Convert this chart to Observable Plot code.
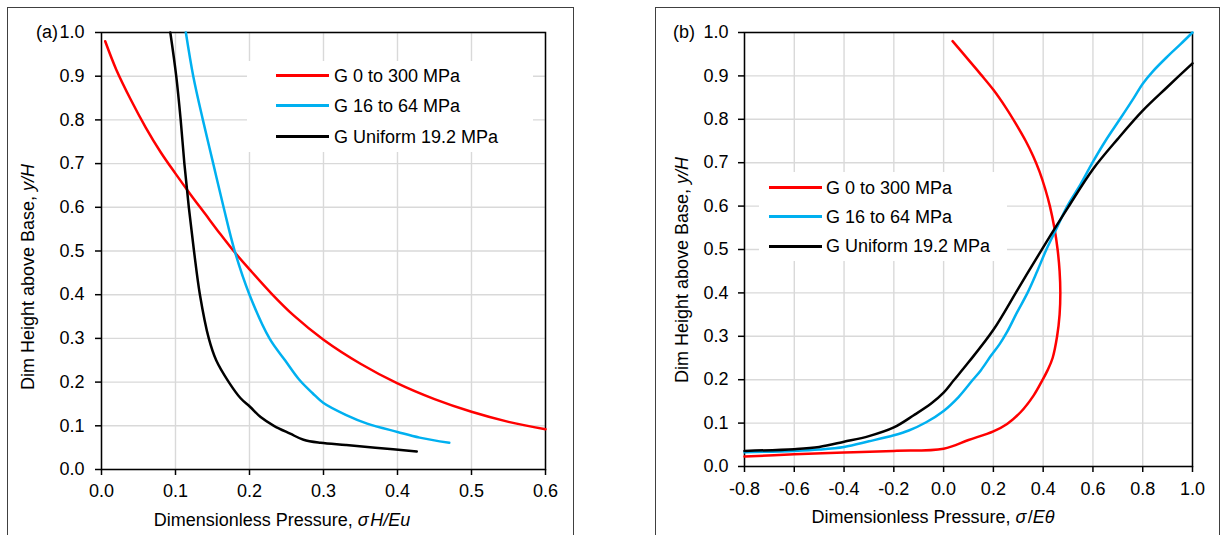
<!DOCTYPE html>
<html>
<head>
<meta charset="utf-8">
<script src="https://cdn.jsdelivr.net/npm/d3@7"></script>
<script src="https://cdn.jsdelivr.net/npm/@observablehq/plot@0.6"></script>
<style>
  body { margin: 0; background: #fff; font-family: "Liberation Sans", Arial, sans-serif; }
  #wrap { position: relative; width: 1220px; height: 535px; overflow: hidden; background: #fff; }
  .panel { position: absolute; border: 1.5px solid #404040; box-sizing: border-box; }
  .abs { position: absolute; white-space: nowrap; font-size: 18px; line-height: 18px; color: #000; }
  .ctr { transform: translate(-50%, -50%); }
  .rot { transform: translate(-50%, -50%) rotate(-90deg); }
  .leg { position: absolute; background: #fff; }
  .sw { position: absolute; height: 3px; }
</style>
</head>
<body>
<div id="wrap"></div>
<script>
// ---------- data ----------
const seriesNames = ["G 0 to 300 MPa", "G 16 to 64 MPa", "G Uniform 19.2 MPa"];
const seriesColors = ["#ff0000", "#00b0f0", "#000000"];

const yTicks = [0.0, 0.1, 0.2, 0.3, 0.4, 0.5, 0.6, 0.7, 0.8, 0.9, 1.0];
const aXTicks = [0.0, 0.1, 0.2, 0.3, 0.4, 0.5, 0.6];
const bXTicks = [-0.8, -0.6, -0.4, -0.2, 0.0, 0.2, 0.4, 0.6, 0.8, 1.0];

// panel (a): [sigma H / E u, y/H]
const aRed = [[0.005,0.98],[0.02,0.915],[0.04,0.845],[0.06,0.782],[0.08,0.726],[0.10,0.677],[0.12,0.63],
  [0.14,0.585],[0.16,0.54],[0.18,0.497],[0.20,0.458],[0.23,0.402],[0.26,0.352],[0.30,0.297],[0.35,0.242],
  [0.40,0.197],[0.45,0.161],[0.50,0.132],[0.55,0.109],[0.60,0.092]];
const aBlue = [[0.114,1.0],[0.124,0.9],[0.137,0.8],[0.151,0.7],[0.165,0.6],[0.18,0.5],[0.2,0.4],
  [0.227,0.3],[0.248,0.25],[0.267,0.206],[0.285,0.175],[0.30,0.152],[0.33,0.125],[0.359,0.105],
  [0.40,0.086],[0.43,0.073],[0.47,0.061]];
const aBlack = [[0.093,1.0],[0.101,0.9],[0.107,0.8],[0.112,0.7],[0.118,0.6],[0.125,0.5],[0.133,0.4],
  [0.145,0.3],[0.155,0.25],[0.172,0.2],[0.188,0.163],[0.201,0.143],[0.215,0.12],[0.233,0.10],
  [0.255,0.082],[0.273,0.068],[0.296,0.061],[0.33,0.056],[0.37,0.05],[0.426,0.041]];

// panel (b): [sigma / E theta, y/H]
const bRed = [[0.036,0.98],[0.1,0.937],[0.15,0.903],[0.2,0.868],[0.25,0.827],[0.29,0.79],[0.33,0.75],
  [0.36,0.715],[0.385,0.68],[0.408,0.64],[0.427,0.6],[0.445,0.55],[0.458,0.5],[0.466,0.45],[0.469,0.4],
  [0.466,0.35],[0.456,0.3],[0.438,0.25],[0.418,0.222],[0.396,0.198],[0.362,0.164],[0.309,0.125],
  [0.255,0.098],[0.20,0.081],[0.10,0.061],[0.0,0.041],[-0.2,0.036],[-0.4,0.032],[-0.6,0.028],[-0.8,0.023]];
const bBlue = [[-0.8,0.033],[-0.6,0.036],[-0.5,0.039],[-0.4,0.045],[-0.3,0.058],[-0.2,0.072],[-0.14,0.083],
  [-0.07,0.102],[0.0,0.128],[0.06,0.16],[0.115,0.198],[0.15,0.222],[0.19,0.255],[0.225,0.282],
  [0.255,0.31],[0.295,0.355],[0.337,0.40],[0.376,0.45],[0.413,0.5],[0.455,0.55],[0.497,0.6],
  [0.55,0.65],[0.598,0.7],[0.65,0.75],[0.708,0.8],[0.765,0.85],[0.80,0.882],[0.84,0.91],[0.9,0.945],
  [0.95,0.972],[1.0,1.0]];
const bBlack = [[-0.8,0.036],[-0.6,0.040],[-0.5,0.045],[-0.4,0.057],[-0.3,0.07],[-0.2,0.09],[-0.12,0.118],
  [-0.05,0.145],[0.0,0.17],[0.04,0.198],[0.1,0.24],[0.2,0.315],[0.3,0.41],[0.4,0.505],[0.5,0.597],
  [0.6,0.685],[0.7,0.755],[0.8,0.82],[0.9,0.875],[1.0,0.929]];

// ---------- build ----------
const toRows = (lists) => lists.flatMap((pts, i) => pts.map(([x, y]) => ({series: seriesNames[i], x, y})));
const fmt = d => d.toFixed(1);
const wrap = document.getElementById("wrap");

function panelPlot({xDomain, xTicks, data, width, height, mL, mR, mT, mB, xPad, yPad}) {
  return Plot.plot({
    width, height, marginLeft: mL, marginRight: mR, marginTop: mT, marginBottom: mB,
    style: {background: "transparent", fontFamily: "'Liberation Sans', Arial, sans-serif", fontSize: "18px", color: "#000", overflow: "visible"},
    x: {domain: xDomain},
    y: {domain: [0, 1]},
    color: {domain: seriesNames, range: seriesColors},
    marks: [
      Plot.gridX(xTicks, {stroke: "#d9d9d9", strokeOpacity: 1, strokeWidth: 1.4}),
      Plot.gridY(yTicks, {stroke: "#d9d9d9", strokeOpacity: 1, strokeWidth: 1.4}),
      Plot.axisX(xTicks, {tickSize: 6, tickPadding: xPad, tickFormat: fmt, strokeWidth: 1.5, fontSize: 18, label: null}),
      Plot.axisY(yTicks, {tickSize: 6, tickPadding: yPad, tickFormat: fmt, strokeWidth: 1.5, fontSize: 18, label: null}),
      Plot.frame({stroke: "#000", strokeWidth: 1.5}),
      Plot.line(data, {x: "x", y: "y", z: "series", stroke: "series", strokeWidth: 2.5, curve: "catmull-rom"})
    ]
  });
}

function el(cls, style, html) {
  const d = document.createElement("div");
  d.className = cls;
  Object.assign(d.style, style);
  if (html != null) d.innerHTML = html;
  wrap.appendChild(d);
  return d;
}

// panel borders
el("panel", {left: "7px", top: "7px", width: "567px", height: "600px"});
el("panel", {left: "655px", top: "7px", width: "565px", height: "600px"});

// plots
const pa = panelPlot({xDomain: [0, 0.6], xTicks: aXTicks, data: toRows([aRed, aBlue, aBlack]),
  width: 600, height: 535, mL: 101, mR: 55, mT: 32, mB: 66, xPad: 9, yPad: 11});
Object.assign(pa.style, {position: "absolute", left: "0px", top: "0px"});
wrap.appendChild(pa);
const pb = panelPlot({xDomain: [-0.8, 1.0], xTicks: bXTicks, data: toRows([bRed, bBlue, bBlack]),
  width: 610, height: 535, mL: 134, mR: 28, mT: 32, mB: 69, xPad: 10, yPad: 10});
Object.assign(pb.style, {position: "absolute", left: "610px", top: "0px"});
wrap.appendChild(pb);

// legends
function legend(box, lineX, lineW, textX, rows) {
  el("leg", {left: box[0] + "px", top: box[1] + "px", width: (box[2] - box[0]) + "px", height: (box[3] - box[1]) + "px"});
  rows.forEach((ry, i) => {
    el("sw", {left: lineX + "px", top: (ry - 1.5) + "px", width: lineW + "px", background: seriesColors[i]});
    el("abs", {left: textX + "px", top: (ry - 8.8) + "px"}, seriesNames[i]);
  });
}
legend([247, 61, 533, 152], 276, 53, 334, [75.7, 105.9, 136.4]);
legend([759, 172, 1007, 261], 769, 53, 826, [187.8, 216.9, 246]);

// panel letters
el("abs", {left: "36px", top: "23px"}, "(a)");
el("abs", {left: "673px", top: "23px"}, "(b)");

// axis titles
el("abs ctr", {left: "282px", top: "520px"}, "Dimensionless Pressure, <i>σ</i>&#8202;<i>H/Eu</i>");
el("abs ctr", {left: "933px", top: "517px"}, "Dimensionless Pressure, <i>σ</i>&#8202;/<i>Eθ</i>");
el("abs rot", {left: "28px", top: "277px"}, "Dim Height above Base, <i>y/H</i>");
el("abs rot", {left: "682px", top: "270px"}, "Dim Height above Base, <i>y/H</i>");
</script>
</body>
</html>
